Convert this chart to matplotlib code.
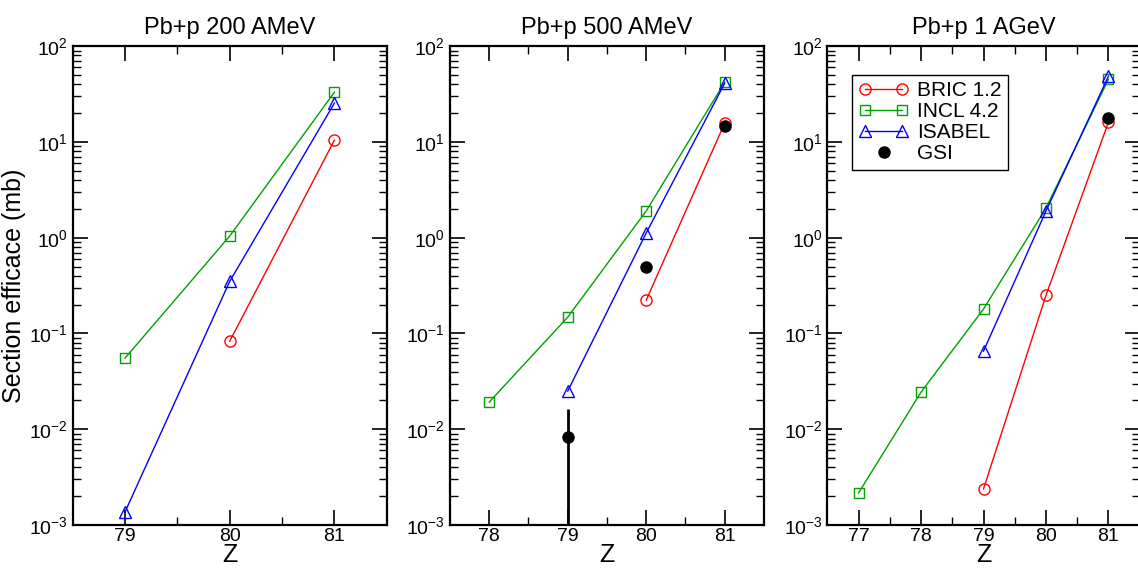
import matplotlib
matplotlib.use("Agg")
import matplotlib.pyplot as plt
from matplotlib.lines import Line2D
from matplotlib.legend_handler import HandlerLine2D

plt.rcParams["font.family"] = ["Liberation Sans", "DejaVu Sans"]

TITLES = ["Pb+p 200 AMeV", "Pb+p 500 AMeV", "Pb+p 1 AGeV"]
XLIMS = [(78.5, 81.5), (77.5, 81.5), (76.5, 81.5)]
XTICKS = [[79, 80, 81], [78, 79, 80, 81], [77, 78, 79, 80, 81]]

# BRIC 1.2
bric_z = [[80, 81], [80, 81], [79, 80, 81]]
bric_v = [[0.083, 10.4], [0.223, 15.7], [0.00238, 0.25, 16.1]]
# INCL 4.2
incl_z = [[79, 80, 81], [78, 79, 80, 81], [77, 78, 79, 80, 81]]
incl_v = [[0.0553, 1.04, 33.0], [0.0192, 0.148, 1.9, 42.0],
          [0.00216, 0.0244, 0.18, 2.04, 45.0]]
# ISABEL
isa_z = [[79, 80, 81], [79, 80, 81], [79, 80, 81]]
isa_v = [[0.00137, 0.35, 25.4], [0.025, 1.12, 41.0], [0.0655, 1.9, 48.6]]
# GSI data
gsi_z = [[], [79, 80, 81], [81]]
gsi_v = [[], [0.0083, 0.49, 14.6], [17.7]]
gsi_err = [[], [0.008, 0.0, 0.0], [0.0]]

RED, GREEN, BLUE = "#ff0000", "#00a000", "#0000ff"

fig = plt.figure(figsize=(11.38, 5.68), dpi=100)
lefts = [0.0639, 0.3954, 0.7270]
widths = [0.2759, 0.2759, 0.2745]
axes = [fig.add_axes([l, 0.0757, w, 0.843]) for l, w in zip(lefts, widths)]

for i, ax in enumerate(axes):
    hb, = ax.plot(bric_z[i], bric_v[i], "-o", color=RED, mfc="none", ms=8, lw=1)
    hi, = ax.plot(incl_z[i], incl_v[i], "-s", color=GREEN, mfc="none", ms=7, lw=1)
    hs, = ax.plot(isa_z[i], isa_v[i], "-^", color=BLUE, mfc="none", ms=8, lw=1)
    if gsi_z[i]:
        ax.errorbar(gsi_z[i], gsi_v[i], yerr=gsi_err[i], fmt="o", color="black",
                    ms=8, elinewidth=2, capsize=0, zorder=4)
    ax.set_yscale("log")
    ax.set_ylim(1e-3, 1e2)
    ax.set_xlim(*XLIMS[i])
    ax.set_xticks(XTICKS[i])
    ax.set_xticks([z + 0.5 for z in XTICKS[i][:-1]], minor=True)
    ax.tick_params(which="both", direction="in", top=True, right=True, labelsize=14)
    ax.tick_params(axis="x", pad=2)
    ax.tick_params(which="major", length=11, width=1.2)
    ax.tick_params(which="minor", length=6, width=1.0)
    for s in ax.spines.values():
        s.set_linewidth(1.6)
    ax.set_title(TITLES[i], fontsize=17, pad=9)
    ax.set_xlabel("Z", fontsize=18, labelpad=-1)

axes[0].set_ylabel("Section efficace (mb)", fontsize=18, labelpad=2)

gsi_h = Line2D([], [], marker="o", color="black", ls="none", ms=8)
leg = axes[2].legend([hb, hi, hs, gsi_h], ["BRIC 1.2", "INCL 4.2", "ISABEL", "GSI"],
                     loc="upper left", bbox_to_anchor=(0.08, 0.94), borderaxespad=0,
                     fontsize=15, numpoints=2, handlelength=2.4, handletextpad=0.4,
                     labelspacing=0.1, borderpad=0.3, fancybox=False, framealpha=1,
                     edgecolor="black", handler_map={gsi_h: HandlerLine2D(numpoints=1)})
leg.get_frame().set_linewidth(1.0)

fig.savefig("out.png", dpi=100)
